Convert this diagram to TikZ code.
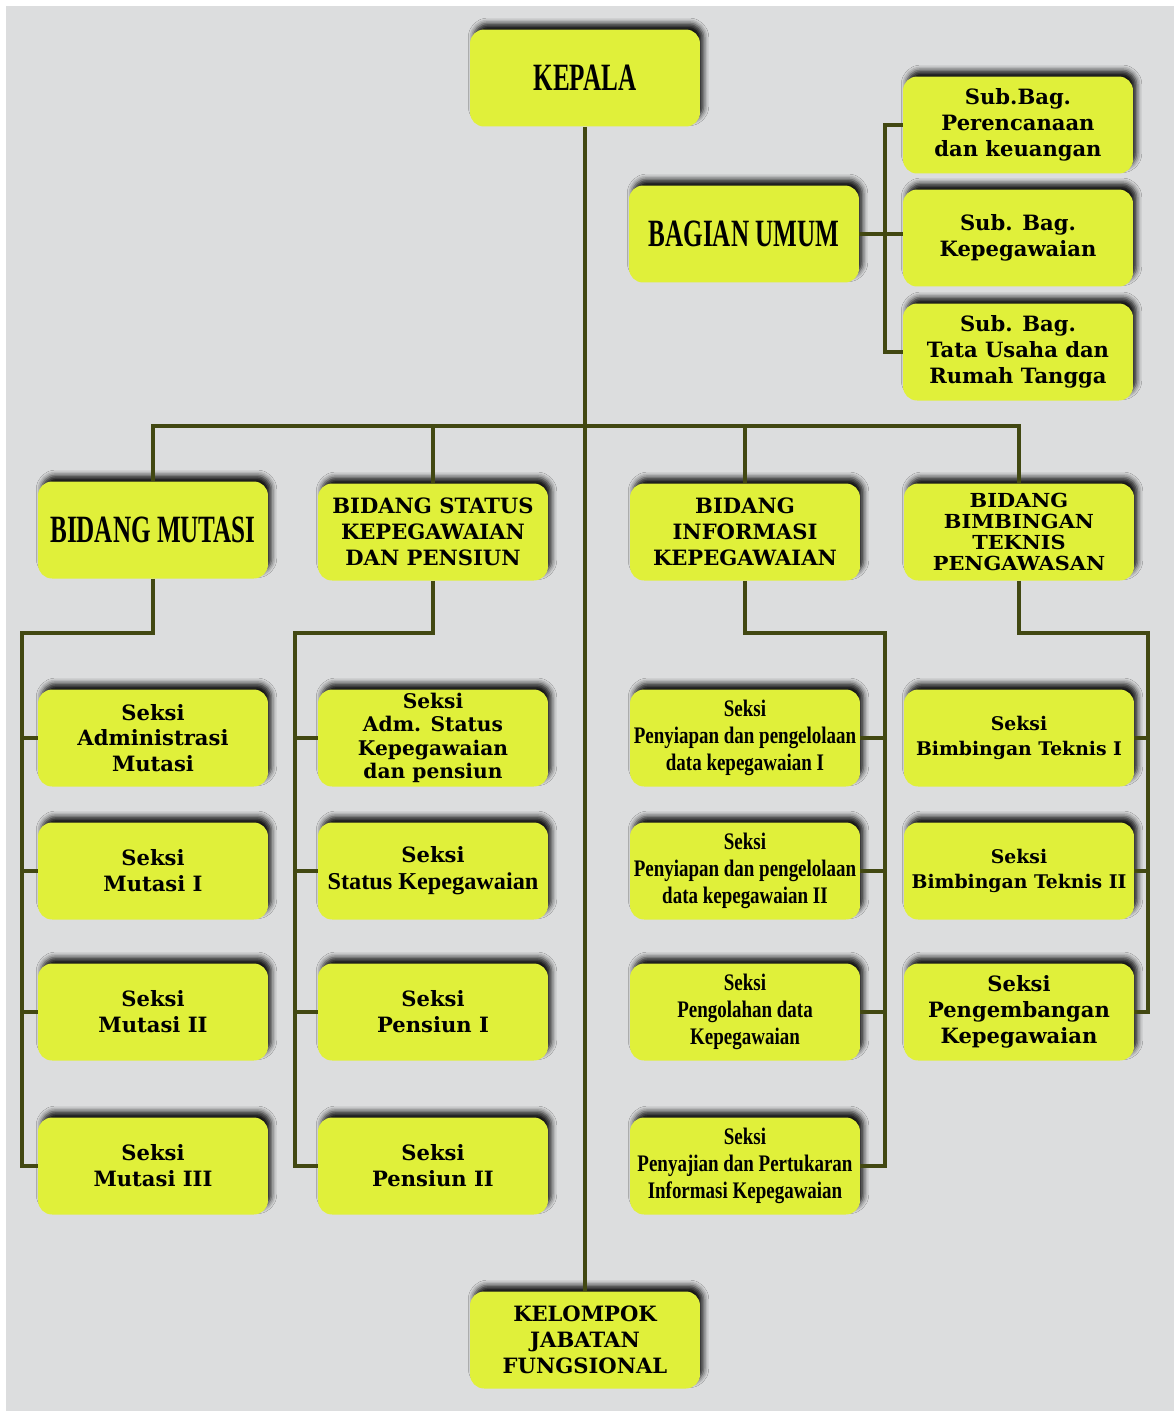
\documentclass[tikz,border=0pt]{standalone}
\usepackage{fontspec}
\usepackage{tikz}
\usetikzlibrary{shadows.blur}

\newfontfamily\wideface{DejaVu Serif}
\newfontfamily\widerface{DejaVu Serif}[FakeStretch=1.08]
\newfontfamily\narrowface{Liberation Serif}[FakeStretch=0.65]
\newfontfamily\midface{Liberation Serif}[FakeStretch=0.8]
\newfontfamily\plainface{Liberation Serif}

\definecolor{boxfill}{RGB}{224,240,58}
\definecolor{linecol}{RGB}{66,72,18}
\definecolor{paper}{RGB}{220,221,222}

\tikzset{
  box/.style={fill=boxfill, rounded corners=8pt, minimum width=4.6cm, minimum height=1.94cm,
    align=center, inner sep=1pt,
    blur shadow={shadow xshift=2pt, shadow yshift=3.5pt, shadow blur radius=3pt, shadow opacity=90}},
  link/.style={draw=linecol, line width=2pt},
  wide/.style={font=\wideface\bfseries\fontsize{12}{14.7}\selectfont},
  tight/.style={font=\wideface\bfseries\fontsize{11.5}{13.2}\selectfont},
  small/.style={font=\wideface\bfseries\fontsize{10.7}{14.7}\selectfont},
  tiny/.style={font=\widerface\bfseries\fontsize{11}{12}\selectfont},
  narrow/.style={font=\midface\bfseries\fontsize{13.5}{15.3}\selectfont},
  big/.style={font=\narrowface\bfseries\fontsize{22}{24}\selectfont},
}

\begin{document}
\begin{tikzpicture}[x=0.02cm, y=-0.02cm]
    % Paper
    \useasboundingbox (0,0) rectangle (1174,1411);
    \fill[white] (0,0) rectangle (1174,1411);
    \fill[paper] (6,6) rectangle (1174,1411);

    % Top
    \node[box, big] (kepala) at (585,78) {KEPALA};
    \node[box, big] (umum) at (744,234) {BAGIAN UMUM};
    \node[box, wide] (subA) at (1018,125) {Sub.Bag.\\Perencanaan\\dan keuangan};
    \node[box, wide] (subB) at (1018,238) {Sub. Bag.\\Kepegawaian};
    \node[box, wide] (subC) at (1018,352) {Sub. Bag.\\Tata Usaha dan\\Rumah Tangga};

    % Bidang
    \node[box, big] (mutasi) at (153,530) {BIDANG MUTASI};
    \node[box, wide] (status) at (433,532) {BIDANG STATUS\\KEPEGAWAIAN\\DAN PENSIUN};
    \node[box, wide] (info) at (745,532) {BIDANG\\INFORMASI\\KEPEGAWAIAN};
    \node[box, tiny] (bimb) at (1019,532) {BIDANG\\BIMBINGAN\\TEKNIS\\PENGAWASAN};

    % Seksi, Bidang Mutasi
    \node[box, wide] (admMut) at (153,738) {Seksi\\Administrasi\\Mutasi};
    \node[box, wide] (mutI) at (153,871) {Seksi\\Mutasi I};
    \node[box, wide] (mutII) at (153,1012) {Seksi\\Mutasi II};
    \node[box, wide] (mutIII) at (153,1166) {Seksi\\Mutasi III};

    % Seksi, Bidang Status
    \node[box, tight] (admSta) at (433,738) {Seksi\\Adm. Status\\Kepegawaian\\dan pensiun};
    \node[box, font=\plainface\bfseries\fontsize{13.8}{15.5}\selectfont] (staKep) at (433,871)
        {{\wideface\fontsize{12}{14.7}\selectfont Seksi}\\Status Kepegawaian};
    \node[box, wide] (pensI) at (433,1012) {Seksi\\Pensiun I};
    \node[box, wide] (pensII) at (433,1166) {Seksi\\Pensiun II};

    % Seksi, Bidang Informasi
    \node[box, narrow] (siapI) at (745,738) {Seksi\\Penyiapan dan pengelolaan\\data kepegawaian I};
    \node[box, narrow] (siapII) at (745,871) {Seksi\\Penyiapan dan pengelolaan\\data kepegawaian II};
    \node[box, narrow] (olah) at (745,1012) {Seksi\\Pengolahan data\\Kepegawaian};
    \node[box, narrow] (saji) at (745,1166) {Seksi\\Penyajian dan Pertukaran\\Informasi Kepegawaian};

    % Seksi, Bidang Bimbingan
    \node[box, small] (bimI) at (1019,738) {Seksi\\Bimbingan Teknis I};
    \node[box, small] (bimII) at (1019,871) {Seksi\\Bimbingan Teknis II};
    \node[box, wide] (kemb) at (1019,1012) {Seksi\\Pengembangan\\Kepegawaian};

    % Fungsional
    \node[box, wide] (kelompok) at (585,1340) {KELOMPOK\\JABATAN\\FUNGSIONAL};

    % Main lines
    \coordinate (bus) at (585,426);
    \coordinate (brk) at (885,238);
    \draw[link] (kepala) -- (kelompok);
    \draw[link] (umum.east) -- (umum.east -| subB.west);
    \draw[link] (subA.west) -| (brk |- subC.west) -- (subC.west);
    \draw[link] (mutasi.north) -- (mutasi.north |- bus) -- (bimb.north |- bus) -- (bimb.north);
    \draw[link] (status.north) -- (status.north |- bus);
    \draw[link] (info.north) -- (info.north |- bus);

    % Branches to the Seksi
    \coordinate (railA) at (22,633);
    \coordinate (railB) at (295,633);
    \coordinate (railC) at (885,633);
    \coordinate (railD) at (1148,633);
    \draw[link] (mutasi.south) |- (railA) -- (railA |- mutIII.west) -- (mutIII.west);
    \draw[link] (status.south) |- (railB) -- (railB |- pensII.west) -- (pensII.west);
    \draw[link] (info.south) |- (railC) -- (railC |- saji.east) -- (saji.east);
    \draw[link] (bimb.south) |- (railD) -- (railD |- kemb.east) -- (kemb.east);
    \foreach \n in {admMut, mutI, mutII} \draw[link] (railA |- \n.west) -- (\n.west);
    \foreach \n in {admSta, staKep, pensI} \draw[link] (railB |- \n.west) -- (\n.west);
    \foreach \n in {siapI, siapII, olah} \draw[link] (railC |- \n.east) -- (\n.east);
    \foreach \n in {bimI, bimII} \draw[link] (railD |- \n.east) -- (\n.east);
\end{tikzpicture}
\end{document}
